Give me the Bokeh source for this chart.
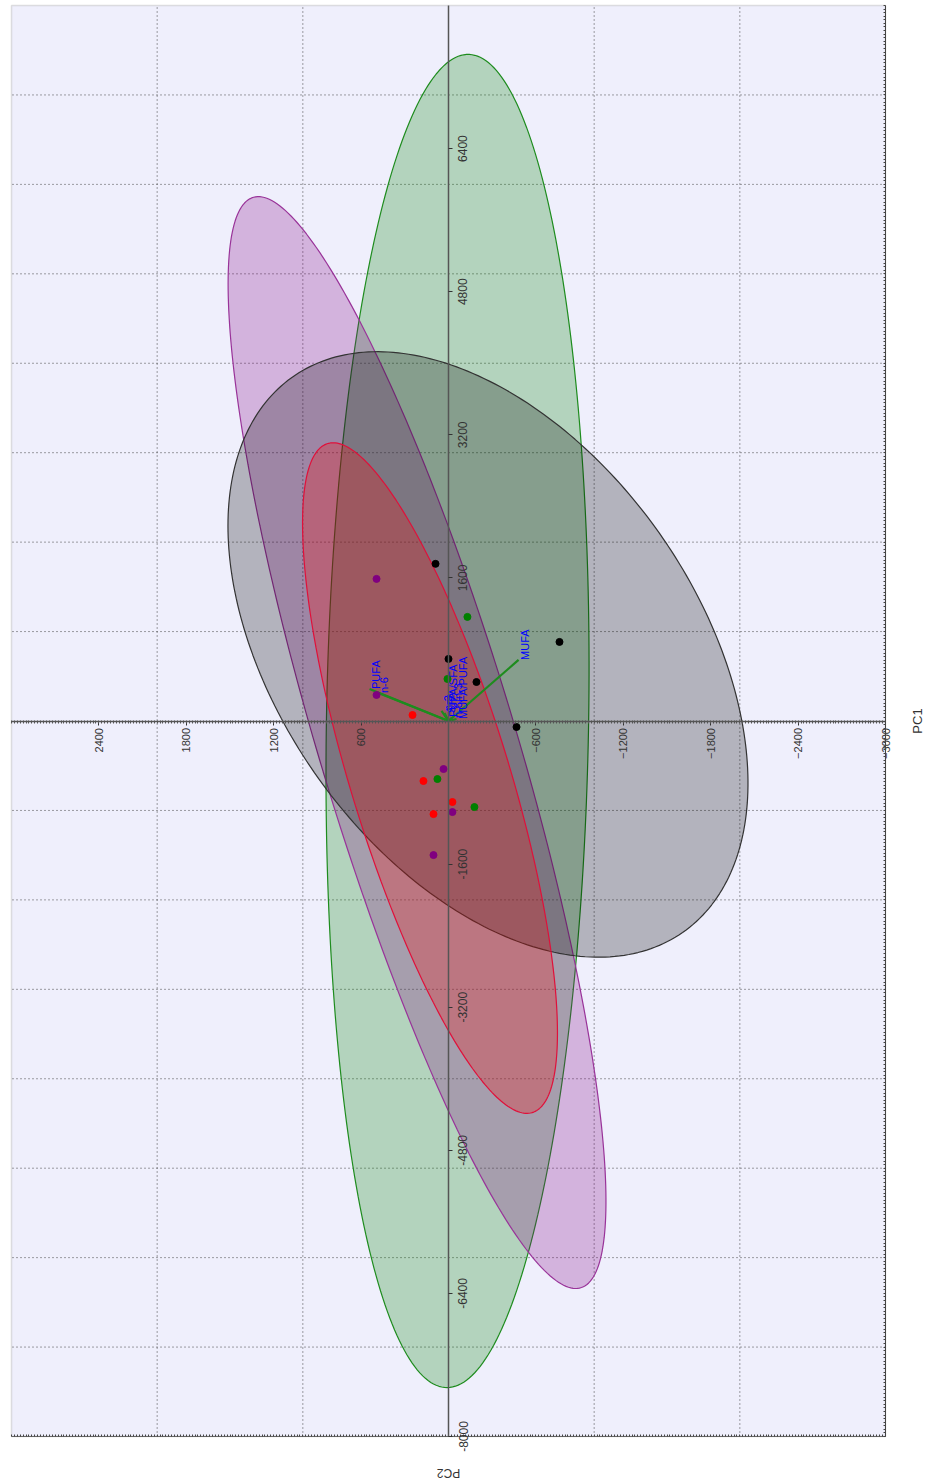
import numpy as np
from math import pi
from bokeh.plotting import figure
from bokeh.models import (Range1d, LinearAxis, FixedTicker, Label, LabelSet,
                          ColumnDataSource, BoxAnnotation)
from bokeh.core.properties import value
from bokeh.embed import file_html
from bokeh.resources import INLINE

# ---------------- data ----------------
pc2_lim = (-3000, 3000)
pc1_lim = (-8000, 8000)
pc2_ticks = [2400, 1800, 1200, 600, -600, -1200, -1800, -2400, -3000]
pc1_ticks = [6400, 4800, 3200, 1600, -1600, -3200, -4800, -6400, -8000]
pc2_grid = [2000, 1000, -1000, -2000]
pc1_grid = [7000, 6000, 5000, 4000, 3000, 2000, 1000,
            -1000, -2000, -3000, -4000, -5000, -6000, -7000]

black_pc2 = [89, 0, -192, -762, -467]
black_pc1 = [1757, 694, 436, 884, -67]
red_pc2 = [247, 172, -27, 103]
red_pc1 = [67, -671, -906, -1041]
purple_pc2 = [494, 494, 34, -27, 103]
purple_pc1 = [1589, 291, -537, -1018, -1499]
green_pc2 = [-130, 7, 76, -178]
green_pc1 = [1164, 470, -649, -962]

# confidence ellipses: centre, radii and correlation of the two PCs
ell_group = ["green", "purple", "black", "red"]
ell_c2 = [-62, 216, -271, 127]
ell_c1 = [0, -241, 744, -638]
ell_r2 = [903, 1297, 1785, 875]
ell_r1 = [7453, 6104, 3385, 3749]
ell_rho = [-0.08, 0.84, 0.425, 0.76]

load_names = ["PUFA", "n-6", "MUFA", "n-3", "SFA", "PUFA/SFA", "n-6/n-3", "MUFA/PUFA"]
load_pc2 = [542, 481, -481, 48, 27, 7, -21, -55]
load_pc1 = [358, 313, 683, 112, 90, 45, 34, 22]

# ---------------- styles / layout ----------------
fill_col = {"green": "#008000", "purple": "#800080", "black": "#000000", "red": "#FF0000"}
line_col = {"green": "#1E8C1E", "purple": "#993399", "black": "#333333", "red": "#E0103A"}
FONT = "Liberation Sans"

PW, PH = 874, 1431             # plot-area size in px
ML, MR, MT, MB = 11, 43, 5, 44  # margins around the plot area in px
s2 = (pc2_lim[1] - pc2_lim[0]) / PW
s1 = (pc1_lim[1] - pc1_lim[0]) / PH

p = figure(frame_width=PW + ML + MR, frame_height=PH + MT + MB,
           x_range=Range1d(pc2_lim[1] + ML * s2, pc2_lim[0] - MR * s2),
           y_range=Range1d(pc1_lim[0] - MB * s1, pc1_lim[1] + MT * s1),
           x_axis_type=None, y_axis_type=None,
           output_backend="svg", toolbar_location=None,
           min_border=0, min_border_left=0, min_border_right=0,
           min_border_top=0, min_border_bottom=0,
           background_fill_color="white", border_fill_color="white",
           outline_line_color=None)

# plot area
p.add_layout(BoxAnnotation(left=pc2_lim[1], right=pc2_lim[0], bottom=pc1_lim[0], top=pc1_lim[1],
                           fill_color="#EFEFFC", fill_alpha=1.0,
                           line_color="#9A9A9A", line_width=1.5, level="underlay"))

# dotted grid lines, limited to the plot area
p.segment(x0=pc2_grid, y0=[pc1_lim[0]] * len(pc2_grid), x1=pc2_grid, y1=[pc1_lim[1]] * len(pc2_grid),
          line_color="#444444", line_dash="1 3", line_width=1)
p.segment(x0=[pc2_lim[0]] * len(pc1_grid), y0=pc1_grid, x1=[pc2_lim[1]] * len(pc1_grid), y1=pc1_grid,
          line_color="#444444", line_dash="1 3", line_width=1)

# ellipses
t = np.linspace(0, 2 * pi, 300)
for g, c2, c1, r2, r1, rho in zip(ell_group, ell_c2, ell_c1, ell_r2, ell_r1, ell_rho):
    phi = np.arccos(rho)
    xs = c2 + r2 * np.cos(t)
    ys = c1 + r1 * np.cos(t - phi)
    p.patch(xs, ys, fill_color=fill_col[g], fill_alpha=0.25,
            line_color=line_col[g], line_width=1.2)

# loadings
p.segment(x0=[0] * len(load_pc2), y0=[0] * len(load_pc1), x1=load_pc2, y1=load_pc1,
          line_color="#1E8C1E", line_width=2.2)
p.text(x=load_pc2, y=load_pc1, text=load_names, angle=pi / 2,
       text_align="left", text_baseline="top", text_font_size="11px",
       text_font=value(FONT), text_color="#0000FF")

# points
for xs, ys, g in [(black_pc2, black_pc1, "black"), (red_pc2, red_pc1, "red"),
                  (purple_pc2, purple_pc1, "purple"), (green_pc2, green_pc1, "green")]:
    p.scatter(xs, ys, size=7, fill_color=fill_col[g], line_color=fill_col[g])

# axes through the origin
ax_h = LinearAxis(fixed_location=0, bounds=pc2_lim,
                  ticker=FixedTicker(ticks=pc2_ticks,
                                     minor_ticks=list(np.arange(pc2_lim[0], pc2_lim[1] + 1, 20))),
                  major_label_orientation=pi / 2,
                  axis_line_color="#555555", axis_line_width=1.5,
                  major_tick_in=0, major_tick_out=4, major_tick_line_color="#333333",
                  minor_tick_in=1, minor_tick_out=2, minor_tick_line_color="#555555",
                  major_label_text_font=FONT, major_label_text_font_size="11px",
                  major_label_text_color="#333333", major_label_standoff=3)
p.add_layout(ax_h, "below")
ax_v = LinearAxis(fixed_location=0, bounds=pc1_lim, ticker=FixedTicker(ticks=pc1_ticks),
                  axis_line_color="#555555", axis_line_width=1.5,
                  major_tick_in=0, major_tick_out=4, major_tick_line_color="#333333",
                  minor_tick_in=0, minor_tick_out=0,
                  major_label_text_font_size="0px", major_label_text_alpha=0)
p.add_layout(ax_v, "right")
# tick labels of the vertical axis, centred on their ticks
v_src = ColumnDataSource(dict(x=[0] * len(pc1_ticks), y=pc1_ticks,
                              text=[str(v) for v in pc1_ticks]))
p.add_layout(LabelSet(x="x", y="y", text="text", source=v_src, angle=pi / 2,
                      x_offset=10, text_align="center", text_baseline="top",
                      text_font=value(FONT), text_font_size="12px", text_color="#333333"))

# plot-area edge axes (bottom and right) with minor ticks
ax_b = LinearAxis(fixed_location=pc1_lim[0], bounds=pc2_lim,
                  ticker=FixedTicker(ticks=[], minor_ticks=list(np.arange(pc2_lim[0], pc2_lim[1] + 1, 20))),
                  axis_line_color="#666666", axis_line_width=1,
                  minor_tick_in=2, minor_tick_out=0, minor_tick_line_color="#444444",
                  major_tick_in=0, major_tick_out=0, major_label_text_font_size="0px")
p.add_layout(ax_b, "below")
ax_r = LinearAxis(fixed_location=pc2_lim[0], bounds=pc1_lim,
                  ticker=FixedTicker(ticks=[], minor_ticks=list(np.arange(pc1_lim[0], pc1_lim[1] + 1, 40))),
                  axis_line_color="#444444", axis_line_width=1,
                  minor_tick_in=2, minor_tick_out=0, minor_tick_line_color="#444444",
                  major_tick_in=0, major_tick_out=0, major_label_text_font_size="0px")
p.add_layout(ax_r, "right")

# axis titles
p.add_layout(Label(x=0, y=pc1_lim[0], y_offset=-36, text="PC2", angle=pi,
                   text_align="center", text_baseline="middle",
                   text_font=FONT, text_font_size="12px", text_color="#333333"))
p.add_layout(Label(x=pc2_lim[0], y=0, x_offset=32, text="PC1", angle=pi / 2,
                   text_align="center", text_baseline="middle",
                   text_font=FONT, text_font_size="13px", text_color="#333333"))

open("out.html", "w").write(file_html(p, INLINE))
